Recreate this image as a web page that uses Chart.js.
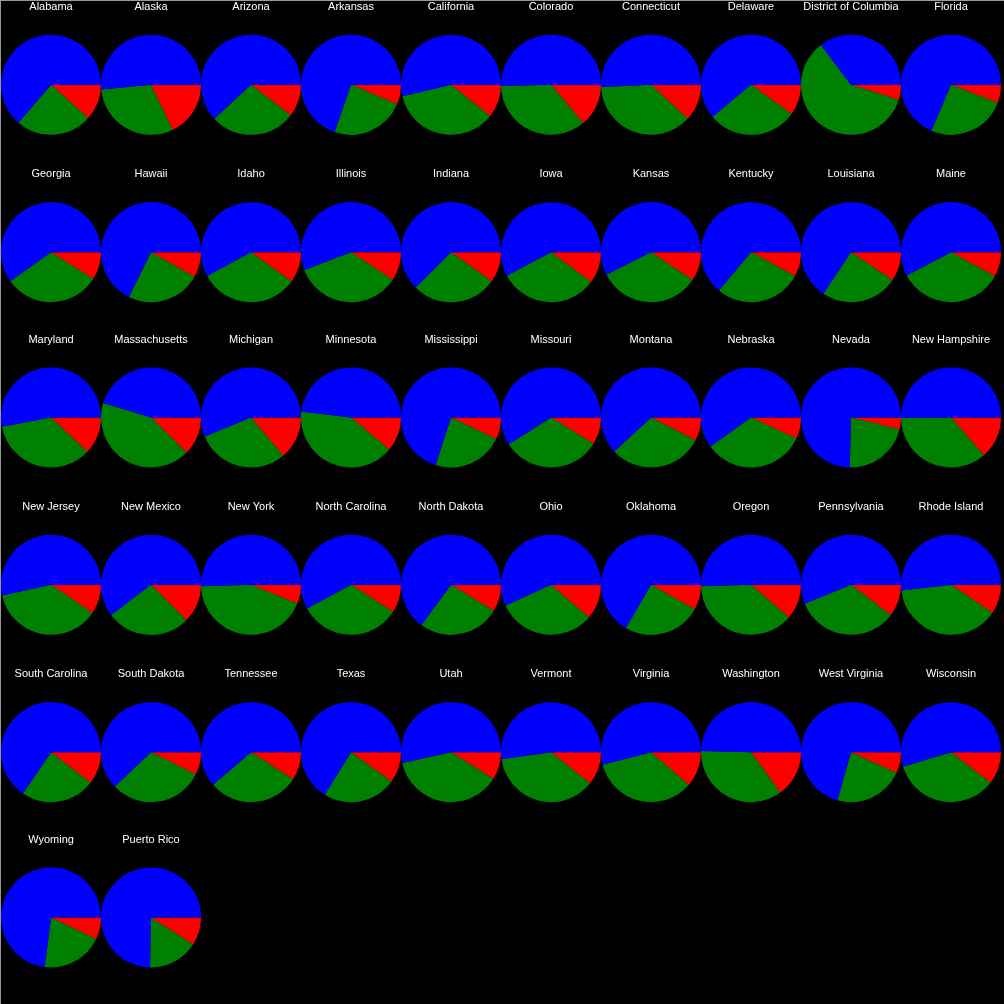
<!DOCTYPE html>
<html><head><meta charset="utf-8">
<script src="https://cdn.jsdelivr.net/npm/chart.js@4.4.1/dist/chart.umd.min.js"></script>
<style>
html,body{margin:0;padding:0;background:#000;}
#wrap{position:relative;width:1003px;height:1003px;background:#000;overflow:hidden;border-left:1px solid #9a9a9a;border-top:1px solid #9a9a9a;}
canvas{position:absolute;}
</style></head><body><div id="wrap"></div>
<script>
const states = ["Alabama","Alaska","Arizona","Arkansas","California","Colorado","Connecticut","Delaware","District of Columbia","Florida",
"Georgia","Hawaii","Idaho","Illinois","Indiana","Iowa","Kansas","Kentucky","Louisiana","Maine",
"Maryland","Massachusetts","Michigan","Minnesota","Mississippi","Missouri","Montana","Nebraska","Nevada","New Hampshire",
"New Jersey","New Mexico","New York","North Carolina","North Dakota","Ohio","Oklahoma","Oregon","Pennsylvania","Rhode Island",
"South Carolina","South Dakota","Tennessee","Texas","Utah","Vermont","Virginia","Washington","West Virginia","Wisconsin",
"Wyoming","Puerto Rico"];
const redShare = [11.6,17.9,10.4,6.4,10.7,13.9,11.9,9.9,4.9,5.9,
9.0,8.2,10.0,9.3,9.9,10.2,9.4,7.9,9.4,8.0,
12.0,12.4,13.9,11.2,7.1,8.8,7.5,6.9,3.9,13.6,
9.5,12.5,6.2,9.1,8.7,11.3,8.1,11.3,10.4,9.4,
10.5,7.4,9.1,10.0,8.9,10.7,11.4,15.0,6.8,10.5,
7.1,9.1];
const greenShare = [24.7,30.6,27.7,23.9,35.6,35.7,37.4,29.1,59.8,25.5,
31.1,24.1,32.1,34.9,27.6,32.0,33.1,28.2,24.9,34.3,
35.0,42.3,29.9,40.7,22.9,32.2,30.6,33.2,21.5,36.2,
37.1,27.2,43.3,33.0,26.4,31.9,25.3,38.2,33.4,38.8,
24.0,30.5,29.6,23.8,37.6,37.0,34.5,35.4,22.6,34.8,
19.9,16.2];
const blueShare = [63.7,51.5,61.9,69.7,53.7,50.4,50.7,61.0,35.3,68.6,
59.9,67.7,57.9,55.8,62.5,57.8,57.5,63.9,65.7,57.7,
53.0,45.3,56.2,48.1,70.0,59.0,61.9,59.9,74.6,50.2,
53.4,60.3,50.5,57.9,64.9,56.8,66.6,50.5,56.2,51.8,
65.5,62.1,61.3,66.2,53.5,52.3,54.1,49.6,70.6,54.7,
73.0,74.7];
const sliceLabels = ["Red","Green","Blue"];
const sliceColors = ["#ff0000","#008000","#0000ff"];

const wrap = document.getElementById('wrap');
const cellW = 100, cellH = 1000/6;
states.forEach((name, i) => {
  const col = i % 10, row = Math.floor(i / 10);
  const top = Math.round(row * cellH);
  const cv = document.createElement('canvas');
  cv.width = 100; cv.height = 167;
  cv.style.left = (col * cellW) + 'px';
  cv.style.top = (top - 1) + 'px';
  cv.style.width = '100px'; cv.style.height = '167px';
  wrap.appendChild(cv);
  const cyOff = 84.8 - (row * cellH - top);
  new Chart(cv, {
    type: 'pie',
    data: {
      labels: sliceLabels,
      datasets: [{
        data: [redShare[i], greenShare[i], blueShare[i]],
        backgroundColor: sliceColors,
        borderWidth: 0
      }]
    },
    options: {
      responsive: false,
      animation: false,
      devicePixelRatio: 1,
      rotation: 90,
      layout: { padding: { top: 0, bottom: 167 - (cyOff + 50), left: 0, right: 0 } },
      plugins: {
        legend: { display: false },
        tooltip: { enabled: false },
        title: {
          display: true,
          text: name,
          color: '#ffffff',
          font: { family: "'Liberation Sans', Arial, sans-serif", size: 11, weight: 'normal', lineHeight: 1.1 },
          padding: { top: 1, bottom: (cyOff - 50) - 13.1 }
        }
      }
    }
  });
});
</script>
</body></html>
